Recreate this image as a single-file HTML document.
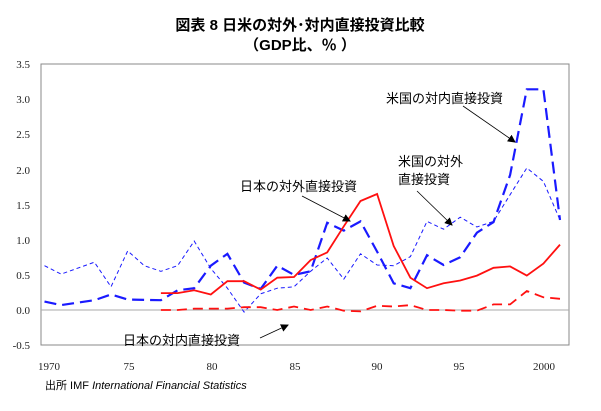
<!DOCTYPE html>
<html><head><meta charset="utf-8"><style>
body{margin:0;background:#fff}
svg{display:block}
.j{font-family:"Liberation Sans","Noto Sans CJK JP",sans-serif}
.s{font-family:"Liberation Serif",serif;font-size:11px;fill:#222}
</style></head><body>
<svg width="601" height="411" viewBox="0 0 601 411" xmlns="http://www.w3.org/2000/svg">
<defs><marker id="a" markerWidth="8" markerHeight="8" refX="7" refY="4" orient="auto" markerUnits="userSpaceOnUse"><path d="M0,0 L8,4 L0,8z" fill="#000"/></marker></defs>
<text x="300" y="30" text-anchor="middle" class="j" font-size="15" font-weight="bold">図表 8  日米の対外･対内直接投資比較</text>
<text x="300" y="50" text-anchor="middle" class="j" font-size="15" font-weight="bold">（GDP比、％ ）</text>
<rect x="41" y="64" width="528" height="281" fill="none" stroke="#888" stroke-width="1"/>
<line x1="41" y1="310" x2="569" y2="310" stroke="#aaa"/>
<g class="s" text-anchor="end">
<text x="30" y="68">3.5</text><text x="30" y="103">3.0</text><text x="30" y="138">2.5</text><text x="30" y="174">2.0</text><text x="30" y="209">1.5</text><text x="30" y="244">1.0</text><text x="30" y="279">0.5</text><text x="30" y="314">0.0</text><text x="30" y="349">-0.5</text>
</g>
<g class="s" text-anchor="middle">
<text x="49" y="370">1970</text><text x="129" y="370">75</text><text x="212" y="370">80</text><text x="295" y="370">85</text><text x="377" y="370">90</text><text x="459" y="370">95</text><text x="544" y="370">2000</text>
</g>
<text x="45" y="389" class="j" font-size="11">出所  IMF  <tspan font-style="italic">International Financial Statistics</tspan></text>
<!-- x = 44.5+16.63*(yr-1970); y = 310-70.3*v -->
<polyline fill="none" stroke="#1a1aff" stroke-width="1" stroke-dasharray="4,3" points="44.5,265.7 61.1,274.1 94.4,262.2 111,286.8 127.7,250.9 144.3,265.7 160.9,271.3 177.6,265.7 194.2,241.1 210.8,268.5 227.4,288.2 244.1,312.1 260.7,293.8 277.3,288.2 294,286.8 310.6,271.3 327.2,258 343.8,279.1 360.5,253.8 377.1,265 393.7,265.7 410.4,256.6 427,221.4 443.6,229.2 460.2,217.2 476.9,227 493.5,221.4 510.1,194.7 526.8,168 543.4,181.4 560,220"/>
<polyline fill="none" stroke="#1a1aff" stroke-width="2.2" stroke-dasharray="12,6" points="44.5,301.6 61.1,305.1 94.4,300.2 111,294.5 127.7,299.5 160.9,300.2 177.6,290.3 194.2,288.2 210.8,265.7 227.4,253.8 244.1,282.6 260.7,288.9 277.3,265.7 294,274.9 310.6,271.3 327.2,222.8 343.8,230.6 360.5,221.4 377.1,251.6 393.7,283.3 410.4,288.2 427,255.2 443.6,265 460.2,257.3 476.9,232.7 493.5,222.1 510.1,175 526.8,89.3 543.4,89.3 560,220"/>
<polyline fill="none" stroke="#ff1010" stroke-width="1.8" points="160.9,293.1 177.6,293.1 194.2,290.3 210.8,294.5 227.4,281.2 244.1,281.2 260.7,289.6 277.3,277.7 294,277 310.6,260.1 327.2,252.4 343.8,226.3 360.5,201 377.1,194 393.7,246 410.4,277.7 427,288.2 443.6,283.3 460.2,280.5 476.9,275.6 493.5,267.8 510.1,266.4 526.8,275.6 543.4,263.6 560,244.6"/>
<polyline fill="none" stroke="#ff1010" stroke-width="1.8" stroke-dasharray="10,6" points="160.9,310 177.6,310 194.2,308.6 210.8,308.6 227.4,308.6 244.1,307.2 260.7,307.2 277.3,310 294,306.5 310.6,310 327.2,306.5 343.8,310.7 360.5,311.4 377.1,305.8 393.7,306.5 410.4,305.1 427,310 443.6,310 460.2,310.7 476.9,310.7 493.5,304.4 510.1,304.4 526.8,291 543.4,297.3 560,298.8"/>
<g class="j" font-size="13" fill="#000">
<text x="386" y="103">米国の対内直接投資</text>
<text x="398" y="166">米国の対外</text>
<text x="398" y="184">直接投資</text>
<text x="240" y="191">日本の対外直接投資</text>
<text x="123" y="345">日本の対内直接投資</text>
</g>
<g stroke="#000" stroke-width="0.8" marker-end="url(#a)">
<line x1="463" y1="106" x2="515" y2="142"/>
<line x1="417" y1="191" x2="452" y2="225"/>
<line x1="302" y1="196" x2="350" y2="221"/>
<line x1="260" y1="338" x2="288" y2="325"/>
</g>
</svg>
</body></html>
